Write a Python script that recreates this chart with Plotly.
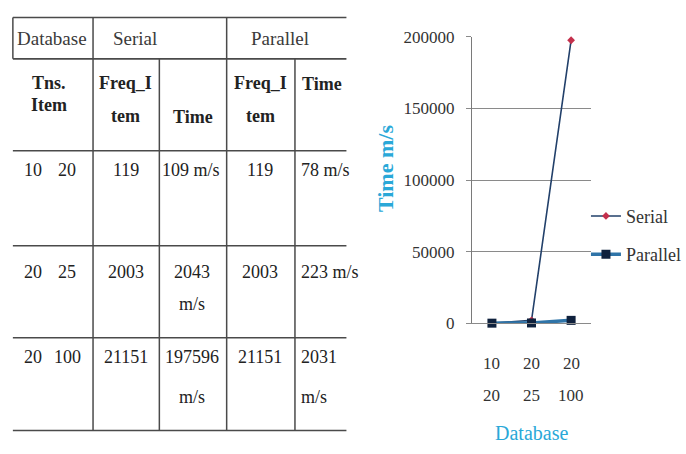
import plotly.graph_objects as go

# ---- data -------------------------------------------------------------
tns_items = [10, 20, 20]          # transactions in database
db_items = [20, 25, 100]          # items in database
serial_freq = [119, 2003, 21151]
serial_time = [109, 2043, 197596]
parallel_freq = [119, 2003, 21151]
parallel_time = [78, 223, 2031]

y_ticks = [0, 50000, 100000, 150000, 200000]

W, H = 686, 454
SERIF = "Liberation Serif, Times New Roman, serif"
CYAN = "#2aa8d8"
GRID = "#8a8a8a"


def px(x):
    return x / W


def py(y):
    return 1 - y / H


categories = [f"{t} {i}" for t, i in zip(tns_items, db_items)]

fig = go.Figure()

fig.add_trace(go.Scatter(
    x=categories, y=serial_time, name="Serial", mode="lines+markers",
    line=dict(color="#22406a", width=1.6),
    marker=dict(symbol="diamond", size=6, color="#c4304c"),
    legendgroup="s", cliponaxis=False,
))
fig.add_trace(go.Scatter(
    x=categories, y=parallel_time, name="Parallel", mode="lines+markers",
    line=dict(color="#2f74a8", width=3.5),
    marker=dict(symbol="square", size=9, color="#0f213d"),
    legendgroup="p", cliponaxis=False,
))

# ---- chart axes -------------------------------------------------------
fig.update_layout(
    width=W, height=H,
    margin=dict(l=0, r=0, t=0, b=0),
    paper_bgcolor="white", plot_bgcolor="white",
    font=dict(family=SERIF, size=17, color="#333333"),
    xaxis=dict(
        domain=[px(477), px(597)], range=[-0.5, 2.5], type="category",
        showticklabels=False, showgrid=False, zeroline=False,
        showline=True, linecolor=GRID, linewidth=1, ticks="",
    ),
    yaxis=dict(
        domain=[py(328), py(29)], range=[0, 200000],
        tickvals=y_ticks, ticktext=[str(v) for v in y_ticks],
        showgrid=True, gridcolor=GRID, gridwidth=1,
        showline=True, linecolor="#7a7a7a", linewidth=1.3,
        ticks="outside", ticklen=5, tickcolor=GRID,
        zeroline=False, ticklabelstandoff=8,
        tickfont=dict(family=SERIF, size=17, color="#333333"),
    ),
    legend=dict(
        x=px(592), y=py(197), xanchor="left", yanchor="top",
        font=dict(family=SERIF, size=18, color="#333333"),
        traceorder="grouped", tracegroupgap=12, itemwidth=30,
        bgcolor="rgba(0,0,0,0)",
    ),
    showlegend=True,
)

annotations = []

# two-line category labels under the chart
for cat, t, i in zip(categories, tns_items, db_items):
    for val, yy in ((t, 370), (i, 403)):
        annotations.append(dict(
            x=cat, xref="x", y=py(yy), yref="paper", text=str(val),
            showarrow=False, font=dict(family=SERIF, size=17, color="#333333"),
            xanchor="center", yanchor="middle",
        ))

# axis titles
annotations.append(dict(
    x=px(537), y=py(442), xref="paper", yref="paper", text="Database",
    showarrow=False, font=dict(family=SERIF, size=20, color=CYAN),
    xanchor="center", yanchor="middle",
))
annotations.append(dict(
    x=px(389), y=py(167), xref="paper", yref="paper", text="<b>Time m/s</b>",
    showarrow=False, textangle=-90,
    font=dict(family=SERIF, size=22, color=CYAN),
    xanchor="center", yanchor="middle",
))

# ---- table ------------------------------------------------------------
LINE = "#4a4a4a"
shapes = []


def hline(y, x0=13, x1=350, w=1.5):
    shapes.append(dict(type="line", xref="paper", yref="paper",
                       x0=px(x0), x1=px(x1), y0=py(y), y1=py(y),
                       line=dict(color=LINE, width=w)))


def vline(x, y0, y1, w=1.5):
    shapes.append(dict(type="line", xref="paper", yref="paper",
                       x0=px(x), x1=px(x), y0=py(y0), y1=py(y1),
                       line=dict(color=LINE, width=w)))


row_lines = [9, 52, 148, 247, 343, 440]
for r in row_lines:
    hline(r, w=1.8 if r == 52 else 1.5)
vline(13, 9, 52)
vline(94, 9, 440)
vline(229, 9, 440)
vline(161, 52, 440)
vline(298, 52, 440)


def cell(text, x, y, anchor="center", bold=False, size=18, color="#222222"):
    annotations.append(dict(
        x=px(x), y=py(y), xref="paper", yref="paper",
        text=f"<b>{text}</b>" if bold else text, showarrow=False,
        font=dict(family=SERIF, size=size, color=color),
        xanchor=anchor, yanchor="middle",
    ))


# header row 1
cell("Database", 15, 31, anchor="left", color="#3a3a3a", size=19)
cell("Serial", 112, 31, anchor="left", color="#3a3a3a", size=19)
cell("Parallel", 252, 31, anchor="left", color="#3a3a3a", size=19)

# header row 2
cell("Tns.", 50, 77, bold=True)
cell("Item", 50, 100, bold=True)
cell("Freq_I", 127, 77, bold=True)
cell("tem", 127, 112, bold=True)
cell("Time", 195, 113, bold=True)
cell("Freq_I", 263, 77, bold=True)
cell("tem", 263, 112, bold=True)
cell("Time", 325, 78, bold=True)

# body rows: first-line y and second-line y for each row
row_first = [168, 275, 363]
row_second = [201, 308, 405]
for k in range(3):
    y1, y2 = row_first[k], row_second[k]
    cell(str(tns_items[k]), 33, y1)
    cell(str(db_items[k]), 68, y1)
    cell(str(serial_freq[k]), 127, y1)
    if serial_time[k] < 1000:
        cell(f"{serial_time[k]} m/s", 193, y1)
    else:
        cell(str(serial_time[k]), 194, y1)
        cell("m/s", 194, y2)
    cell(str(parallel_freq[k]), 263, y1)
    if parallel_time[k] < 1000:
        cell(f"{parallel_time[k]} m/s", 302, y1, anchor="left")
    else:
        cell(str(parallel_time[k]), 302, y1, anchor="left")
        cell("m/s", 302, y2, anchor="left")

fig.update_layout(annotations=annotations, shapes=shapes)

fig.write_html("out.html")
